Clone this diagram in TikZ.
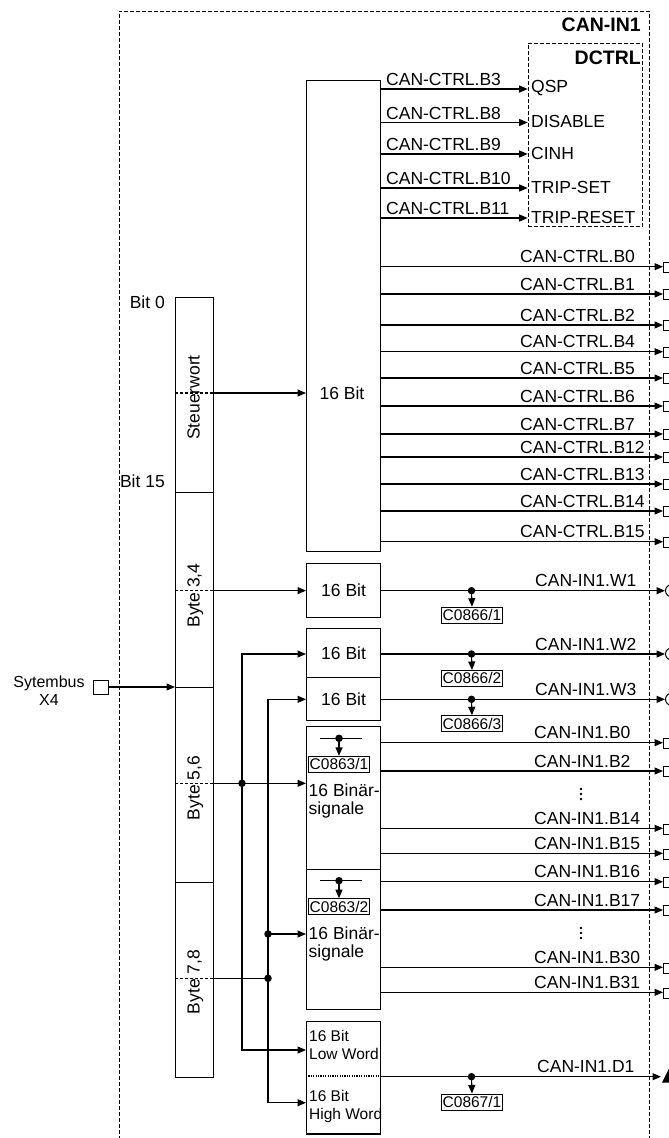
\documentclass[tikz,border=0pt]{standalone}
\usepackage{fontspec}
\setmainfont{Liberation Sans}
\usetikzlibrary{arrows.meta,positioning}

\newcommand{\fnorm}{\fontsize{17.5}{18.3}\selectfont}
\newcommand{\fsmall}{\fontsize{15.5}{18}\selectfont}
\newcommand{\fmid}{\fontsize{16}{18.3}\selectfont}
\newcommand{\fhead}{\fontsize{19.5}{22}\selectfont\bfseries}

\begin{document}
\begin{tikzpicture}[
  x=1pt, y=-1pt,
  every node/.style={font=\fnorm, inner sep=0pt},
  blk/.style={draw, line width=1.2pt, anchor=north west, minimum width=74pt},
  col/.style={draw, line width=1.2pt, anchor=north west, minimum width=38pt, minimum height=195pt},
  dframe/.style={draw, dash pattern=on 4pt off 2pt, line width=0.9pt, anchor=north west},
  lead/.style={line width=1.1pt},
  arr/.style={lead, -{Triangle[length=8.5pt,width=7pt]}},
  arr2/.style={lead, {Triangle[length=8.5pt,width=7pt]}-{Triangle[length=8.5pt,width=7pt]}},
  dsh/.style={lead, dash pattern=on 3pt off 2pt},
  jdot/.style={circle, fill, minimum size=7.5pt},
  cbox/.style={draw, line width=0.9pt, font=\fsmall, inner xsep=1.5pt, minimum height=16pt, anchor=north},
  term/.style={draw, line width=1pt, minimum width=11pt, minimum height=10pt, anchor=west},
  aterm/.style={draw, circle, line width=1pt, minimum size=12pt, anchor=west},
  sig/.style={anchor=base west}
]
\clip (0,0) rectangle (669,1138);

% frames
\node[dframe, minimum width=530.4pt, minimum height=1150pt] (canin) at (118.6,10.7) {};
\node[anchor=east, font=\fhead] (caninlbl) at (641,25) {CAN-IN1};
\node[dframe, minimum width=114.3pt, minimum height=183.3pt] (dctrl) at (527.7,42.7) {};
\node[anchor=east, font=\fhead] (dctrllbl) at (641,58) {DCTRL};

% systembus words
\node[col] (sw) at (175,297) {};
\node[col] (b34) at (175,492) {};
\node[col] (b56) at (175,687) {};
\node[col] (b78) at (175,882) {};
\node[rotate=90, anchor=base] (swtxt) at (199.5,397.5) {Steuerwort};
\node[rotate=90, anchor=base] (b34txt) at (199.5,595.5) {Byte 3,4};
\node[rotate=90, anchor=base] (b56txt) at (199.5,788) {Byte 5,6};
\node[rotate=90, anchor=base] (b78txt) at (199.5,982) {Byte 7,8};
\node[anchor=east] (bit0) at (165,302.5) {Bit 0};
\node[anchor=east] (bit15) at (165,481) {Bit 15};

\node[draw, line width=1pt, minimum width=15pt, minimum height=14pt] (x4) at (100.8,687) {};
\node[font=\fmid, align=center] (x4txt) at (49,691) {Sytembus\\X4};
\draw[arr] (x4.east) -- (b56.north west);

% function blocks
\node[blk, minimum height=471pt] (ctrl) at (306,80) {};
\node (ctrltxt) at (342,393) {16 Bit};
\node[blk, minimum height=54pt] (w1) at (306,563) {16 Bit};
\node[blk, minimum height=48.7pt] (w2) at (306,628) {16 Bit};
\node[blk, minimum height=43.3pt] (w3) at (306,676.7) {16 Bit};
\node[blk, minimum height=142.7pt] (bin1) at (306,726) {};
\node[blk, minimum height=140.3pt] (bin2) at (306,868.7) {};
\node[blk, minimum height=112.3pt] (dw) at (306,1021) {};
\node[anchor=west, align=left] (bin1txt) at (308.5,801) {16 Binär-\\signale};
\node[anchor=west, align=left] (bin2txt) at (308.5,944) {16 Binär-\\signale};
\node[anchor=west, align=left, font=\fsmall] (lowtxt) at (309,1045) {16 Bit\\Low Word};
\node[anchor=west, align=left, font=\fsmall] (hightxt) at (309,1106.5) {16 Bit\\High Word};
\draw[lead, dash pattern=on 1.2pt off 1.2pt] (dw.west |- 0,1076) -- (dw.east |- 0,1076);

% inputs
\draw[dsh] (sw.west |- ctrltxt) -- (sw.east |- ctrltxt);
\draw[arr] (sw.east |- ctrltxt) -- (ctrl.west |- ctrltxt);
\draw[dsh] (b34.west |- w1) -- (b34.east |- w1);
\draw[arr] (b34.east |- w1) -- (w1.west);

\coordinate (va) at (242,654);
\coordinate (vb) at (242,1050);
\coordinate (vc) at (268,699.3);
\coordinate (vd) at (268,1102.7);
\draw[arr2] (va -| w2.west) -- (va) -- (vb) -- (vb -| dw.west);
\draw[arr2] (vc -| w3.west) -- (vc) -- (vd) -- (vd -| dw.west);

\node[jdot] (j56) at (242,783.3) {};
\draw[dsh] (b56.west |- j56) -- (b56.east |- j56);
\draw[arr] (b56.east |- j56) -- (bin1.west |- j56);
\node[jdot] (jb2) at (268,934) {};
\draw[arr] (jb2.center) -- (bin2.west |- jb2);
\node[jdot] (j78) at (268,978.3) {};
\draw[dsh] (b78.west |- j78) -- (b78.east |- j78);
\draw[lead] (b78.east |- j78) -- (j78.center);

% control word to DCTRL
\foreach \yy/\bb/\ss in {89/B3/QSP, 122.5/B8/DISABLE, 154/B9/CINH, 188/B10/TRIP-SET, 218/B11/TRIP-RESET}{
  \draw[arr] (ctrl.east |- 0,\yy) -- (dctrl.west |- 0,\yy);
  \node[sig] (l\bb) at (386,\yy-3.5) {CAN-CTRL.\bb};
  \node[anchor=west] (d\bb) at (531,\yy-1) {\ss};
}
% control word bits out
\foreach \yy/\bb in {266.7/B0, 294/B1, 325/B2, 351.7/B4, 378/B5, 406/B6, 434/B7, 457/B12, 484/B13, 511/B14, 541.7/B15}{
  \node[term] (t\bb) at (663,\yy+0.7) {};
  \draw[arr] (ctrl.east |- 0,\yy) -- (t\bb.west |- 0,\yy);
  \node[sig] (r\bb) at (520,\yy-4) {CAN-CTRL.\bb};
}

% words
\foreach \nn/\yy/\ii in {w1/590.7/1, w2/654/2, w3/699.3/3}{
  \node[aterm] (t\nn) at (665,\yy) {};
  \draw[arr] (\nn.east |- 0,\yy) -- (t\nn.west);
  \node[jdot] (j\nn) at (471.5,\yy) {};
  \node[cbox] (c\nn) at (472,\yy+16) {C0866/\ii};
  \draw[arr] (j\nn.center) -- (c\nn.north);
  \node[sig] (l\nn) at (535,\yy-4) {CAN-IN1.W\ii};
}

% binary signals
\foreach \bx/\yy/\ii in {bin1/738.3/1, bin2/880.7/2}{
  \draw[lead] (320,\yy) -- (362,\yy);
  \node[jdot] (jc\ii) at (339,\yy) {};
  \node[cbox] (cc\ii) at (339,\yy+17.5) {C0863/\ii};
  \draw[arr] (jc\ii.center) -- (cc\ii.north);
}
\foreach \bx/\yy/\bb in {bin1/742.7/B0, bin1/771/B2, bin1/828.3/B14, bin1/853.3/B15, bin2/881.7/B16, bin2/910/B17, bin2/967.3/B30, bin2/992.3/B31}{
  \node[term] (t\bb) at (663,\yy+0.7) {};
  \draw[arr] (\bx.east |- 0,\yy) -- (t\bb.west |- 0,\yy);
  \node[sig] (s\bb) at (534,\yy-4) {CAN-IN1.\bb};
}
\coordinate (dots1) at (581,794);
\coordinate (dots2) at (581,933);
\foreach \dd in {dots1, dots2}
  \foreach \k in {-5,0,5}
    \fill (\dd) ++(0,\k) circle (1.3);

% double word
\coordinate (tD1) at (662,1076.7);
\fill (tD1) ++(0,6) -- ++(14,0) -- ++(-7,-14) -- cycle;
\draw[arr] (dw.east |- tD1) -- ([xshift=-1pt]tD1);
\node[jdot] (jd1) at (471.5,1076.7) {};
\node[cbox] (cd1) at (472,1093.5) {C0867/1};
\draw[arr] (jd1.center) -- (cd1.north);
\node[sig] (sD1) at (537,1072.7) {CAN-IN1.D1};
\end{tikzpicture}
\end{document}
